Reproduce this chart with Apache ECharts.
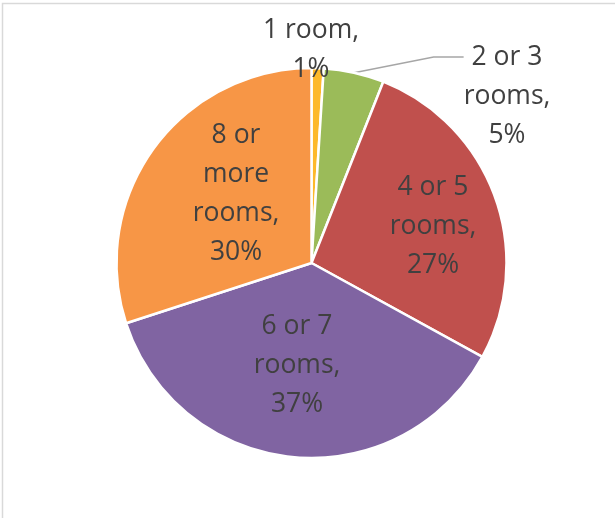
<!DOCTYPE html>
<html>
<head>
<meta charset="utf-8">
<script src="https://cdn.jsdelivr.net/npm/echarts@6/dist/echarts.min.js"></script>
<style>
  html, body { margin: 0; padding: 0; background: #fff; }
  #chart { width: 615px; height: 518px; }
</style>
</head>
<body>
<div id="chart"></div>
<script>
// categories and shares (%)
const categories = ["1 room", "2 or 3 rooms", "4 or 5 rooms", "6 or 7 rooms", "8 or more rooms"];
const shares = [1, 5, 27, 37, 30];
// label text lines as drawn on the chart
// (two blank lines before the 2-3 rooms label so its leader line meets the first line)
const labelText = [
  "1 room,\n1%",
  "\n\n2 or 3\nrooms,\n5%",
  "4 or 5\nrooms,\n27%",
  "6 or 7\nrooms,\n37%",
  "8 or\nmore\nrooms,\n30%"
];
const colors = ["#FDB92B", "#9BBB59", "#C0504D", "#8064A2", "#F79646"];

// where Excel put each label (centre of the text block)
const labelPos = [[311, 50], [507, 57], [433, 226], [297, 365], [236, 194]];

const chart = echarts.init(document.getElementById("chart"));

const data = categories.map((name, i) => ({
  name: name,
  value: shares[i],
  label: {
    formatter: labelText[i],
    position: i < 2 ? "outside" : "inside"
  },
  labelLine: { show: i === 1 }
}));

chart.setOption({
  backgroundColor: "#fff",
  color: colors,
  animation: false,
  graphic: [{
    type: "rect",
    shape: { x: 2.5, y: 3.5, width: 700, height: 700 },
    style: { fill: "none", stroke: "#D9D9D9", lineWidth: 1.5 },
    silent: true
  }],
  series: [{
    type: "pie",
    center: [311.5, 263],
    radius: 195,
    startAngle: 90,
    clockwise: true,
    avoidLabelOverlap: false,
    itemStyle: { borderColor: "#fff", borderWidth: 2.5 },
    label: {
      color: "#404040",
      fontFamily: "Open Sans",
      fontSize: 26.5,
      lineHeight: 39,
      align: "center"
    },
    labelLine: {
      lineStyle: { color: "#A6A6A6", width: 1.5 }
    },
    labelLayout: function (p) {
      const pos = labelPos[p.dataIndex];
      return { x: pos[0], y: pos[1], align: "center", verticalAlign: "middle" };
    },
    emphasis: { disabled: true },
    data: data
  }]
});
</script>
</body>
</html>
